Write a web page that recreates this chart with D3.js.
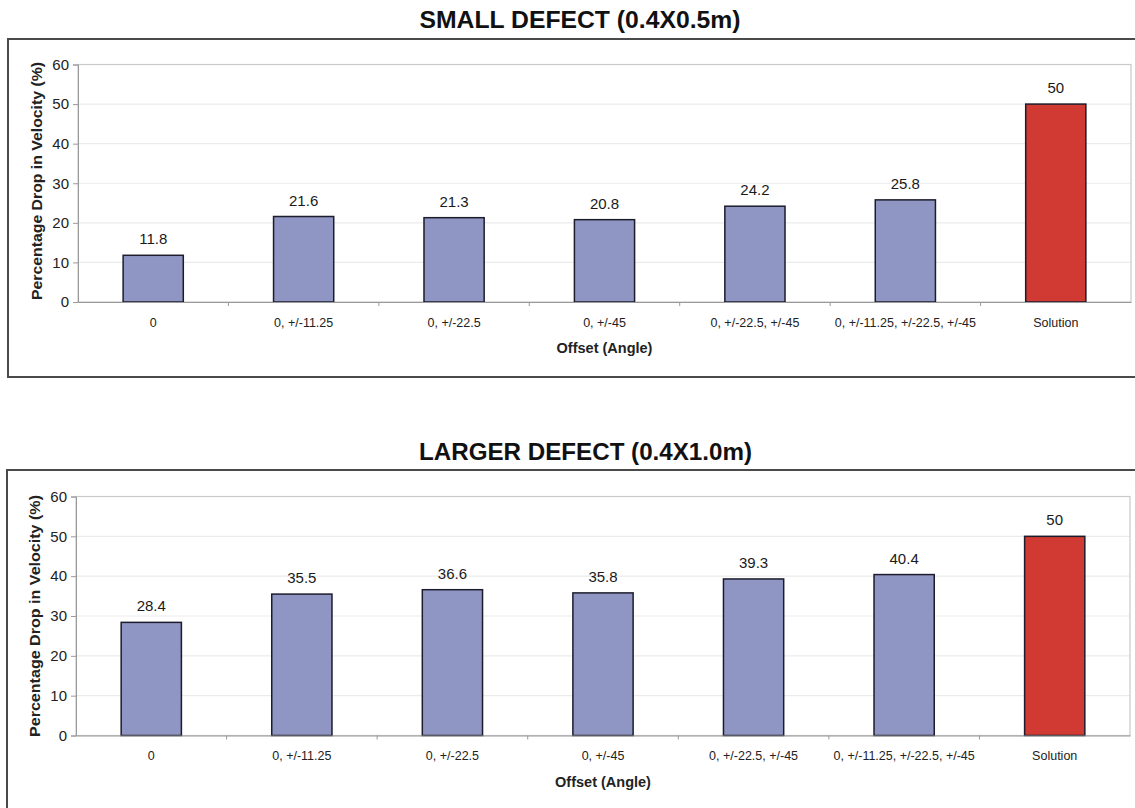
<!DOCTYPE html>
<html>
<head>
<meta charset="utf-8">
<script src="https://cdn.jsdelivr.net/npm/d3@7"></script>
<style>
  html, body { margin: 0; padding: 0; background: #fff; }
  svg { display: block; font-family: "Liberation Sans", Arial, sans-serif; }
</style>
</head>
<body>
<svg id="chart" width="1135" height="808"></svg>
<script>
// Offset-angle configurations shared by both charts
const categories = ["0", "0, +/-11.25", "0, +/-22.5", "0, +/-45", "0, +/-22.5, +/-45", "0, +/-11.25, +/-22.5, +/-45", "Solution"];
// Percentage drop in velocity for each configuration
const smallDefectValues = [11.8, 21.6, 21.3, 20.8, 24.2, 25.8, 50];
const largerDefectValues = [28.4, 35.5, 36.6, 35.8, 39.3, 40.4, 50];
const yTicks = [0, 10, 20, 30, 40, 50, 60];
const titles = ["SMALL DEFECT (0.4X0.5m)", "LARGER DEFECT (0.4X1.0m)"];
const xTitle = "Offset (Angle)";
const yTitle = "Percentage Drop in Velocity (%)";

const svg = d3.select("#chart");

function drawPanel(values, title, L) {
  const g = svg.append("g");

  // panel title
  g.append("text")
    .attr("x", L.titleX).attr("y", L.titleY)
    .attr("text-anchor", "middle")
    .attr("font-size", 23).attr("font-weight", "bold").attr("fill", "#111")
    .attr("textLength", L.titleW).attr("lengthAdjust", "spacingAndGlyphs")
    .text(title);

  // outer frame
  g.append("rect")
    .attr("x", L.boxX).attr("y", L.boxY)
    .attr("width", L.boxW).attr("height", L.boxH)
    .attr("fill", "none").attr("stroke", "#4a4a4a").attr("stroke-width", 2);

  const x = d3.scaleBand().domain(categories).range([L.left, L.right]).paddingInner(0.6).paddingOuter(0.3);
  const xb = d3.scaleBand().domain(categories).range([L.left, L.right]);
  const y = d3.scaleLinear().domain([0, 60]).range([L.bottom, L.top]);

  // horizontal gridlines
  g.append("g").selectAll("line").data(yTicks.filter(t => t > 0 && t < 60)).join("line")
    .attr("x1", L.left).attr("x2", L.right)
    .attr("y1", d => y(d)).attr("y2", d => y(d))
    .attr("stroke", "#ebebeb").attr("stroke-width", 1.2);

  // plot area frame
  g.append("rect")
    .attr("x", L.left).attr("y", y(60))
    .attr("width", L.right - L.left).attr("height", L.bottom - y(60))
    .attr("fill", "none").attr("stroke", "#c9c9c9").attr("stroke-width", 1.2);

  // bars
  g.append("g").selectAll("rect").data(values).join("rect")
    .attr("x", (d, i) => x(categories[i]))
    .attr("width", x.bandwidth())
    .attr("y", d => y(d))
    .attr("height", d => y(0) - y(d))
    .attr("fill", (d, i) => categories[i] === "Solution" ? "#d03a33" : "#8f96c4")
    .attr("stroke", "#1c1c2c").attr("stroke-width", 1.5);

  // value labels
  g.append("g").selectAll("text").data(values).join("text")
    .attr("x", (d, i) => x(categories[i]) + x.bandwidth() / 2)
    .attr("y", d => y(d) - 11)
    .attr("text-anchor", "middle")
    .attr("font-size", 15).attr("fill", "#1a1a1a")
    .text(d => d);

  // y axis
  const yAxis = g.append("g")
    .attr("transform", `translate(${L.left},0)`)
    .call(d3.axisLeft(y).tickValues(yTicks).tickSize(5).tickPadding(4));
  yAxis.select(".domain").attr("stroke", "#9a9a9a");
  yAxis.selectAll(".tick line").attr("stroke", "#9a9a9a");
  yAxis.selectAll(".tick text").attr("font-size", 15).attr("fill", "#222")
    .attr("font-family", "Liberation Sans, Arial, sans-serif");

  // x axis
  const xAxis = g.append("g")
    .attr("transform", `translate(0,${L.bottom})`)
    .call(d3.axisBottom(xb).tickSize(0).tickPadding(16));
  xAxis.select(".domain").attr("stroke", "#9a9a9a");
  xAxis.selectAll(".tick text").attr("font-size", 12.5).attr("fill", "#222")
    .attr("font-family", "Liberation Sans, Arial, sans-serif");
  // category separator ticks
  g.append("g").selectAll("line").data(categories.slice(1)).join("line")
    .attr("x1", d => xb(d)).attr("x2", d => xb(d))
    .attr("y1", L.bottom).attr("y2", L.bottom + 4)
    .attr("stroke", "#9a9a9a");

  // axis titles
  g.append("text")
    .attr("x", (L.left + L.right) / 2).attr("y", L.xTitleY)
    .attr("text-anchor", "middle")
    .attr("font-size", 14.5).attr("font-weight", "bold").attr("fill", "#222")
    .text(xTitle);

  g.append("text")
    .attr("transform", `translate(${L.yTitleX},${L.yTitleCY}) rotate(-90)`)
    .attr("text-anchor", "middle")
    .attr("font-size", 14.5).attr("font-weight", "bold").attr("fill", "#222")
    .attr("textLength", L.yTitleW).attr("lengthAdjust", "spacingAndGlyphs")
    .text(yTitle);
}

drawPanel(smallDefectValues, titles[0], {
  titleX: 580, titleY: 28, titleW: 321,
  boxX: 8, boxY: 39, boxW: 1140, boxH: 338,
  left: 78, right: 1131, top: 64.5, bottom: 302,
  xTitleY: 353, yTitleX: 42, yTitleCY: 181, yTitleW: 238
});

drawPanel(largerDefectValues, titles[1], {
  titleX: 585.5, titleY: 460, titleW: 333,
  boxX: 7, boxY: 470, boxW: 1140, boxH: 360,
  left: 76, right: 1130, top: 496.5, bottom: 735.5,
  xTitleY: 787, yTitleX: 40, yTitleCY: 616, yTitleW: 242
});
</script>
</body>
</html>
